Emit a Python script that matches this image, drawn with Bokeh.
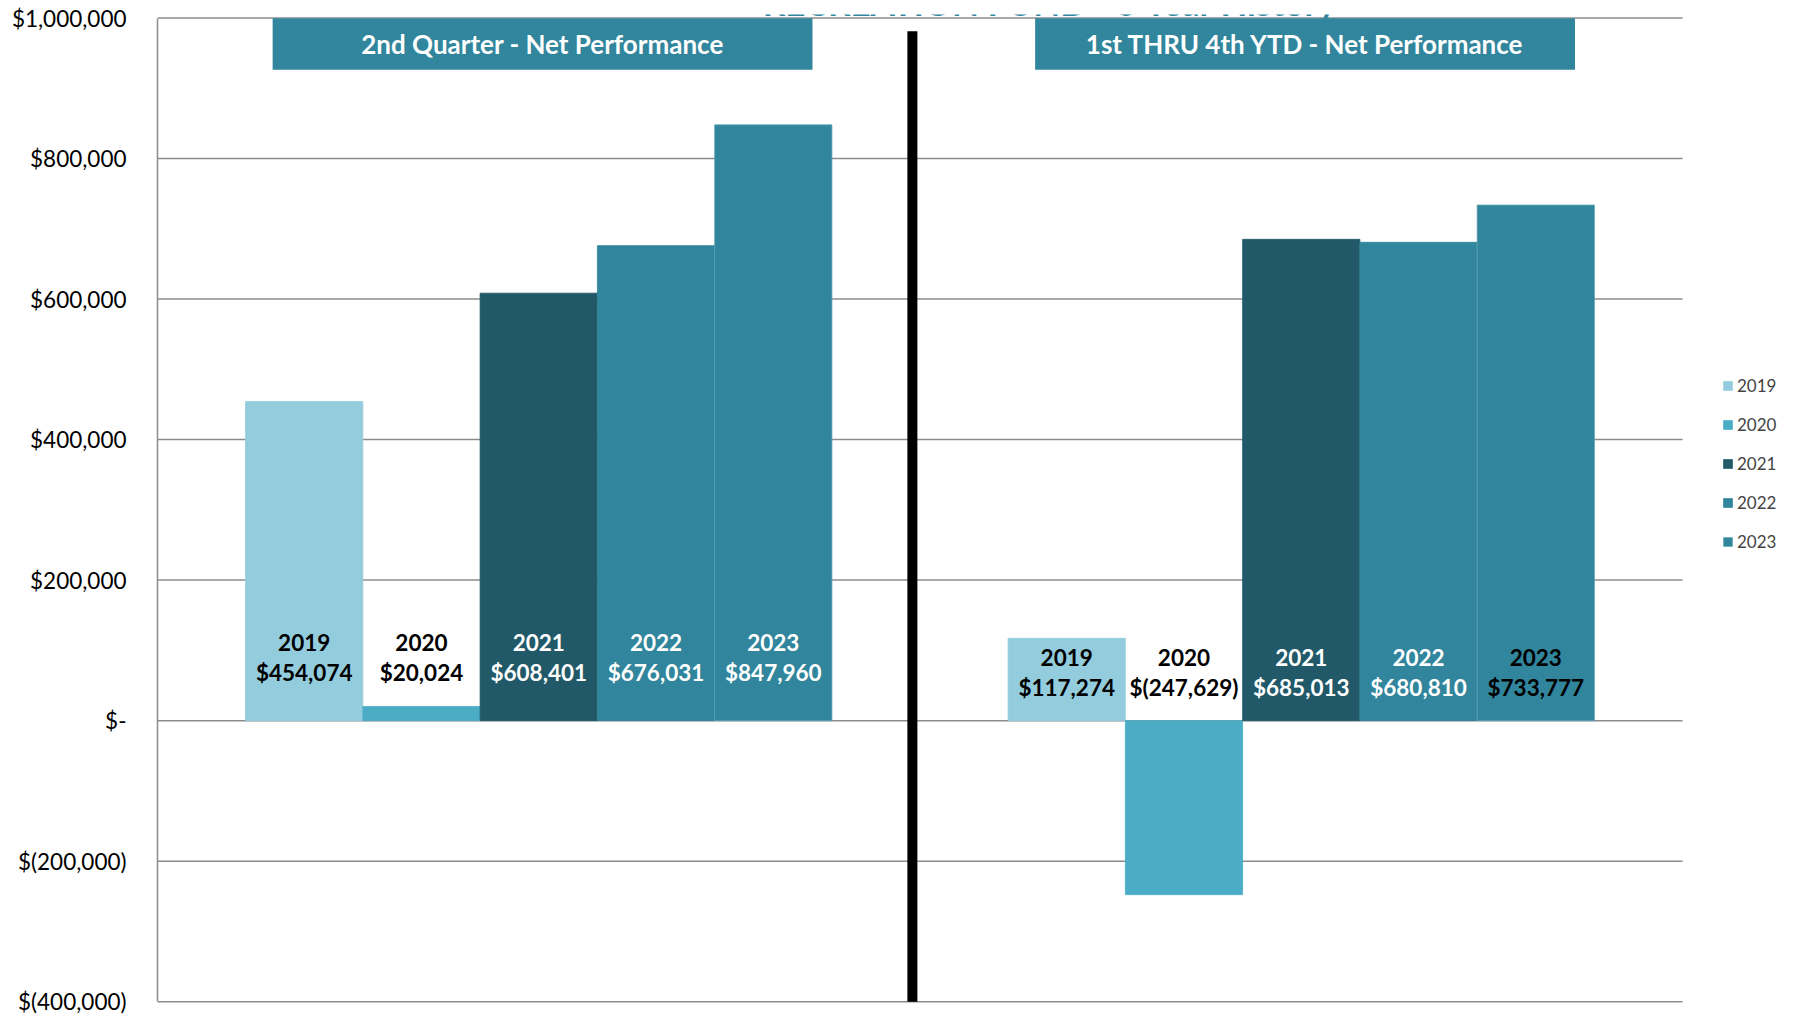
from bokeh.plotting import figure
from bokeh.models import Range1d, ColumnDataSource, Legend, LegendItem, Label, FixedTicker
from bokeh.core.properties import value
from bokeh.embed import file_html
from bokeh.resources import INLINE

title_text = "RECREATION FUND - 5 Year History"
groups = ["2nd Quarter - Net Performance", "1st THRU 4th YTD - Net Performance"]
years = ["2019", "2020", "2021", "2022", "2023"]
q2_values = [454074, 20024, 608401, 676031, 847960]
ytd_values = [117274, -247629, 685013, 680810, 733777]
y_ticks = [-400000, -200000, 0, 200000, 400000, 600000, 800000, 1000000]

bar_colors = ["#93CDDD", "#4BACC6", "#215968", "#31859C", "#31859C"]
label_colors = [["black", "black", "white", "white", "white"],
                ["black", "black", "white", "white", "black"]]
label_anchor = [90000, 68200]
TEAL = "#31859C"
GRID = "#8C8C8C"
FONT = "Lato"


def money(v):
    if v == 0:
        return "$-"
    if v < 0:
        return "$({:,})".format(-v)
    return "${:,}".format(v)


series = [q2_values, ytd_values]
group_width = 0.769
bw = group_width / len(years)
x_end = 2 * (1799 - 157) / 1525.0

p = figure(width=1799, height=1016, x_range=Range1d(0, x_end), y_range=Range1d(-404000, 1005000),
           output_backend="svg", toolbar_location=None,
           min_border_left=157, min_border_right=0, min_border_top=14, min_border_bottom=12)
p.outline_line_color = None
p.xaxis.visible = False
p.xgrid.visible = False
p.ygrid.visible = False
p.background_fill_color = "white"
p.border_fill_color = "white"

yax = p.yaxis[0]
yax.ticker = FixedTicker(ticks=y_ticks)
yax.bounds = (y_ticks[0], y_ticks[-1])
yax.major_label_overrides = {t: money(t) for t in y_ticks}
yax.major_tick_line_color = None
yax.minor_tick_line_color = None
yax.axis_line_color = GRID
yax.axis_line_width = 1.5
yax.major_label_text_font = FONT
yax.major_label_text_font_size = "22.5px"
yax.major_label_text_color = "black"
yax.major_label_standoff = 25

# horizontal grid lines spanning the two chart categories
p.segment(x0=0, x1=2, y0=y_ticks, y1=y_ticks, line_color=GRID, line_width=1.5)

# header boxes
hdr = ColumnDataSource(dict(x=[0.5 + g + 0.005 for g in range(len(groups))], text=groups))
p.rect(x="x", y=963000, width=0.708, height=73500, source=hdr, fill_color=TEAL, line_color=None)
p.text(x="x", y=963000, text="text", source=hdr, text_color="white", text_font=value(FONT),
       text_font_style="bold", text_font_size="26px", text_align="center", text_baseline="middle")

# bars
renderers = []
for i, yr in enumerate(years):
    xs = [0.5 + g + (i - 2) * bw for g in range(len(groups))]
    tops = [series[g][i] for g in range(len(groups))]
    src = ColumnDataSource(dict(x=xs, top=tops))
    r = p.vbar(x="x", top="top", bottom=0, width=bw, source=src, fill_color=bar_colors[i],
               line_color=bar_colors[i] if i != 4 else "#5FA3B8", line_width=0.8)
    renderers.append(r)

# data labels
for g in range(len(groups)):
    xs = [0.5 + g + (i - 2) * bw for i in range(len(years))]
    texts = [years[i] + "\n" + money(series[g][i]) for i in range(len(years))]
    src = ColumnDataSource(dict(x=xs, y=[label_anchor[g]] * len(years), text=texts, c=label_colors[g]))
    p.text(x="x", y="y", text="text", source=src, text_color="c", text_font=value(FONT),
           text_font_style="bold", text_font_size="22.5px", text_align="center",
           text_baseline="middle", text_line_height=1.13)

# separator
p.segment(x0=0.99, y0=-400000, x1=0.99, y1=981000, line_color="black", line_width=10)

# title (cropped at the top like the reference)
p.add_layout(Label(x=1.171, y=1023000, text=title_text, text_color=TEAL, text_font=FONT,
                   text_font_style="bold", text_font_size="35px", text_align="center",
                   text_baseline="alphabetic"))

legend = Legend(items=[LegendItem(label=yr, renderers=[r]) for yr, r in zip(years, renderers)],
                location=(1565, 452), orientation="vertical", border_line_color=None,
                background_fill_alpha=0, glyph_width=11, glyph_height=11, label_standoff=4,
                label_text_font=FONT, label_text_font_size="17px", spacing=18, label_height=20,
                padding=5, margin=0)
p.add_layout(legend, "center")

open("out.html", "w").write(file_html(p, INLINE))
